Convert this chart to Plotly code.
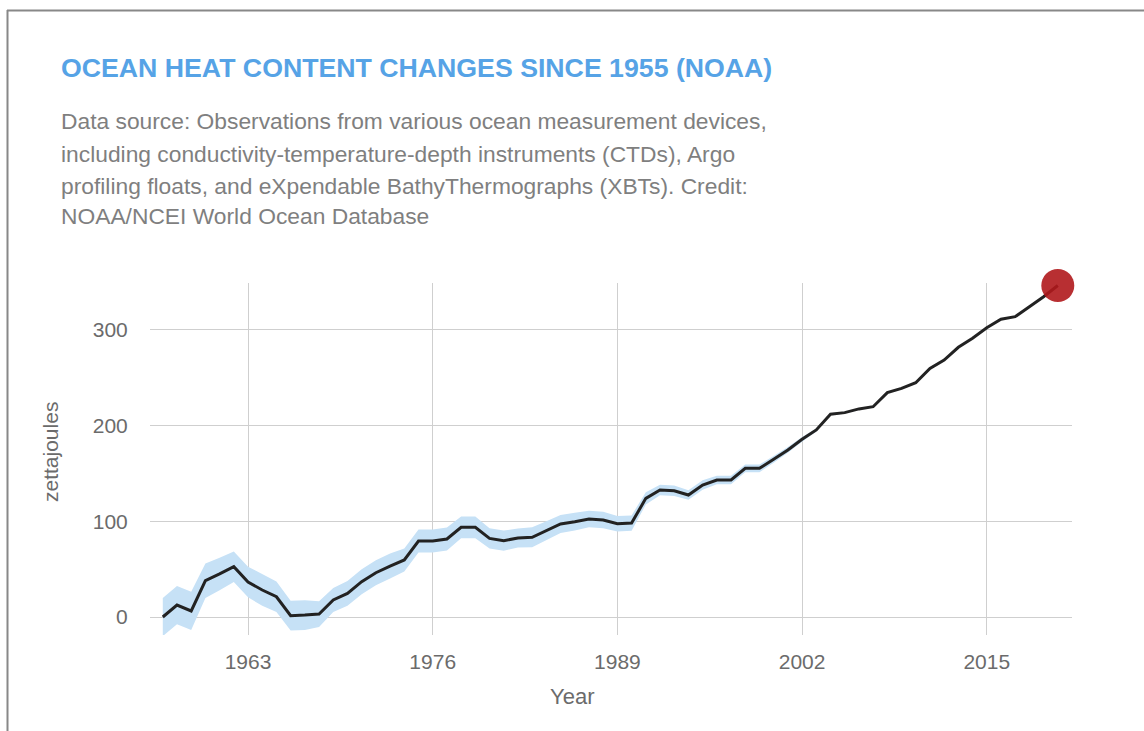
import plotly.graph_objects as go

years = [1957, 1958, 1959, 1960, 1961, 1962, 1963, 1964, 1965, 1966,
         1967, 1968, 1969, 1970, 1971, 1972, 1973, 1974, 1975, 1976,
         1977, 1978, 1979, 1980, 1981, 1982, 1983, 1984, 1985, 1986,
         1987, 1988, 1989, 1990, 1991, 1992, 1993, 1994, 1995, 1996,
         1997, 1998, 1999, 2000, 2001, 2002, 2003, 2004, 2005, 2006,
         2007, 2008, 2009, 2010, 2011, 2012, 2013, 2014, 2015, 2016,
         2017, 2018, 2019, 2020]

heat_zj = [0, 12.5, 6.3, 38, 45, 52.6, 36.6, 28.2, 21.2, 1.4,
           2, 3.1, 17.8, 24.7, 36.9, 46.3, 53.3, 59.6, 79.4, 79.4,
           81.5, 93.7, 93.7, 82.2, 79.8, 82.6, 83.3, 90.2, 97.2, 99.6,
           102.4, 101.4, 97.5, 98.2, 124, 132.7, 132, 127.5, 138, 143.2,
           143.2, 155.4, 155.4, 164.8, 174.6, 185.7, 195.5, 212, 213.6, 217.5,
           219.8, 234.5, 239, 244.9, 259.9, 268.6, 281.9, 291.3, 302.4, 311.2,
           313.9, 324.3, 334.8, 346.5]

uncertainty = [20, 20, 20, 18, 17, 16, 16, 16.5, 16, 15.5,
               15.5, 13.5, 12.5, 13, 13, 13, 13, 12, 12, 12,
               12, 11.3, 11.3, 10.5, 10.5, 10, 10.5, 10, 9.5, 9.3,
               8.7, 8.5, 8.2, 8, 6.5, 5.5, 5.5, 5, 5, 4.5,
               4.5, 4, 4, 3.5, 3, 2.5, 1.5, 1, 1, 0.8,
               0.8, 0.5, 0.5, 0.5, 0.5, 0.5, 0.5, 0.5, 0.5, 0.5,
               0.5, 0.5, 0.5, 0.5]

x_ticks = [1963, 1976, 1989, 2002, 2015]
y_ticks = [0, 100, 200, 300]

title_text = "OCEAN HEAT CONTENT CHANGES SINCE 1955 (NOAA)"
subtitle_lines = [
    "Data source: Observations from various ocean measurement devices,",
    "including conductivity-temperature-depth instruments (CTDs), Argo",
    "profiling floats, and eXpendable BathyThermographs (XBTs). Credit:",
    "NOAA/NCEI World Ocean Database",
]

upper = [v + e for v, e in zip(heat_zj, uncertainty)]
lower = [v - e for v, e in zip(heat_zj, uncertainty)]

W, H = 1144, 731
L, R, T, B = 150, 1072, 283, 635


def px(xp):
    return (xp - L) / (R - L)


def py(yp):
    return (B - yp) / (B - T)


FONT = "Liberation Sans, Arial, sans-serif"

fig = go.Figure()
fig.add_trace(go.Scatter(x=years, y=upper, mode="lines", line=dict(width=0),
                         hoverinfo="skip", showlegend=False))
fig.add_trace(go.Scatter(x=years, y=lower, mode="lines", line=dict(width=0),
                         fill="tonexty", fillcolor="#c6e1f6",
                         hoverinfo="skip", showlegend=False))
fig.add_trace(go.Scatter(x=years, y=heat_zj, mode="lines",
                         line=dict(color="#222222", width=3),
                         showlegend=False))
fig.add_trace(go.Scatter(x=[years[-1]], y=[heat_zj[-1]], mode="markers",
                         marker=dict(size=33, color="rgba(176,24,28,0.9)",
                                     line=dict(width=0)),
                         cliponaxis=False, showlegend=False))

annotations = [
    dict(text="<b>" + title_text + "</b>", x=px(59), y=py(68), xref="paper", yref="paper",
         xanchor="left", yanchor="middle", showarrow=False,
         font=dict(family=FONT, size=26.7, color="#56a3e6")),
]
sub_y = [121, 154, 186, 216]
for line, yy in zip(subtitle_lines, sub_y):
    annotations.append(dict(text=line, x=px(59), y=py(yy), xref="paper", yref="paper",
                            xanchor="left", yanchor="middle", showarrow=False,
                            font=dict(family=FONT, size=22.8, color="#7f7f7f")))
annotations.append(dict(text="zettajoules", x=px(50), y=py(452), xref="paper", yref="paper",
                        xanchor="center", yanchor="middle", textangle=-90, showarrow=False,
                        font=dict(family=FONT, size=21, color="#6b6b6b")))
annotations.append(dict(text="Year", x=px(572), y=py(696), xref="paper", yref="paper",
                        xanchor="center", yanchor="middle", showarrow=False,
                        font=dict(family=FONT, size=22, color="#6b6b6b")))

shapes = [
    dict(type="line", xref="paper", yref="paper", x0=px(7), x1=px(1150), y0=py(10.5), y1=py(10.5),
         line=dict(color="#888888", width=2)),
    dict(type="line", xref="paper", yref="paper", x0=px(7.5), x1=px(7.5), y0=py(10), y1=py(740),
         line=dict(color="#888888", width=2)),
]

fig.update_layout(
    width=W, height=H,
    margin=dict(l=L, r=W - R, t=T, b=H - B),
    paper_bgcolor="white", plot_bgcolor="white",
    annotations=annotations, shapes=shapes,
    showlegend=False,
    font=dict(family=FONT, color="#6b6b6b"),
    xaxis=dict(range=[1956.1, 2021.0], tickvals=x_ticks, ticktext=[str(t) for t in x_ticks],
               showgrid=True, gridcolor="#cfcfcf", gridwidth=1, zeroline=False,
               showline=False, ticks="outside", ticklen=8, tickcolor="rgba(0,0,0,0)",
               tickfont=dict(family=FONT, size=21, color="#6b6b6b")),
    yaxis=dict(range=[-18.8, 349.1], tickvals=y_ticks,
               showgrid=True, gridcolor="#cfcfcf", gridwidth=1, zeroline=False,
               showline=False, ticks="outside", ticklen=17, tickcolor="rgba(0,0,0,0)",
               tickfont=dict(family=FONT, size=21, color="#6b6b6b")),
)

fig.write_html("out.html")
